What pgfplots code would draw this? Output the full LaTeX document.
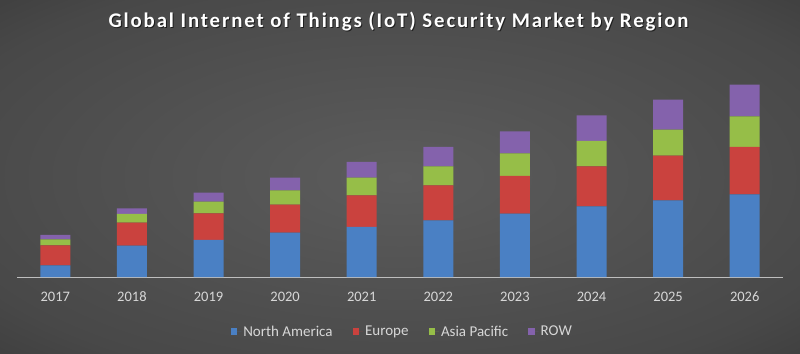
\documentclass[border=0pt]{standalone}
\usepackage{fontspec}
\setmainfont{Carlito}
\usepackage{pgfplots}
\pgfplotsset{compat=1.18}
\definecolor{cNA}{RGB}{74,128,196}
\definecolor{cEU}{RGB}{202,66,62}
\definecolor{cAP}{RGB}{150,190,72}
\definecolor{cROW}{RGB}{132,98,172}
\definecolor{lbl}{RGB}{215,215,215}
\definecolor{axl}{RGB}{190,190,190}
\pgfdeclareradialshading{bgshade}{\pgfpoint{0bp}{0bp}}{%
  color(0bp)=({rgb,255:red,92;green,92;blue,92});
  color(30bp)=({rgb,255:red,72;green,72;blue,72});
  color(50bp)=({rgb,255:red,44;green,44;blue,44});
  color(72bp)=({rgb,255:red,30;green,30;blue,30})}
\begin{document}
\begin{tikzpicture}
\shade[shading=bgshade] (0,0) rectangle (800bp,354bp);
\node[anchor=base, text=black, opacity=0.6, font=\fontsize{20.8bp}{24bp}\selectfont\bfseries\addfontfeatures{LetterSpace=9}] at (399.5bp,325.3bp) {Global Internet of Things (IoT) Security Market by Region};
\node[anchor=base, text=white, font=\fontsize{20.8bp}{24bp}\selectfont\bfseries\addfontfeatures{LetterSpace=9}] at (398.5bp,326.3bp) {Global Internet of Things (IoT) Security Market by Region};
\begin{axis}[
  at={(17bp,77bp)}, anchor=south west,
  scale only axis, width=766bp, height=200bp,
  xmin=-0.5, xmax=9.5, ymin=0, ymax=200,
  ybar stacked, bar width=30bp,
  axis y line=none, axis x line*=bottom,
  x axis line style={draw=axl, line width=1bp, -},
  xtick={0,...,9},
  xticklabels={2017,2018,2019,2020,2021,2022,2023,2024,2025,2026},
  major tick length=0,
  xticklabel style={anchor=base, yshift=-24bp, text=lbl, font=\fontsize{14.5bp}{17bp}\selectfont},
  /pgf/number format/assume math mode=true,
  legend columns=4,
  legend style={at={(0.503,-0.2735)}, anchor=center, draw=none, fill=none,
    text=lbl, font=\fontsize{15bp}{17bp}\selectfont,
    /tikz/every even column/.append style={column sep=18bp},
    /tikz/every odd column/.append style={column sep=0bp}},
  legend image code/.code={\fill[#1] (0bp,-3.3bp) rectangle (6.5bp,3.3bp); \path (0bp,0bp) -- (10.5bp,0bp);},
  clip=false,
]
\addplot[fill=cNA, draw=none] coordinates {(0,11.7) (1,31.3) (2,37) (3,44.4) (4,50) (5,56.7) (6,63.4) (7,70.6) (8,76.6) (9,82.6)};
\addplot[fill=cEU, draw=none] coordinates {(0,20) (1,23) (2,26.7) (3,28) (4,31.7) (5,35) (6,37.6) (7,40) (8,44.7) (9,47.4)};
\addplot[fill=cAP, draw=none] coordinates {(0,6) (1,8.7) (2,11.6) (3,14.3) (4,17.7) (5,19) (6,22.7) (7,25.4) (8,26) (9,30.6)};
\addplot[fill=cROW, draw=none] coordinates {(0,4.3) (1,5.7) (2,9) (3,12.7) (4,15.6) (5,19.3) (6,22) (7,25.6) (8,30) (9,31.7)};
\legend{North America, Europe, Asia Pacific, ROW}
\end{axis}
\end{tikzpicture}
\end{document}
